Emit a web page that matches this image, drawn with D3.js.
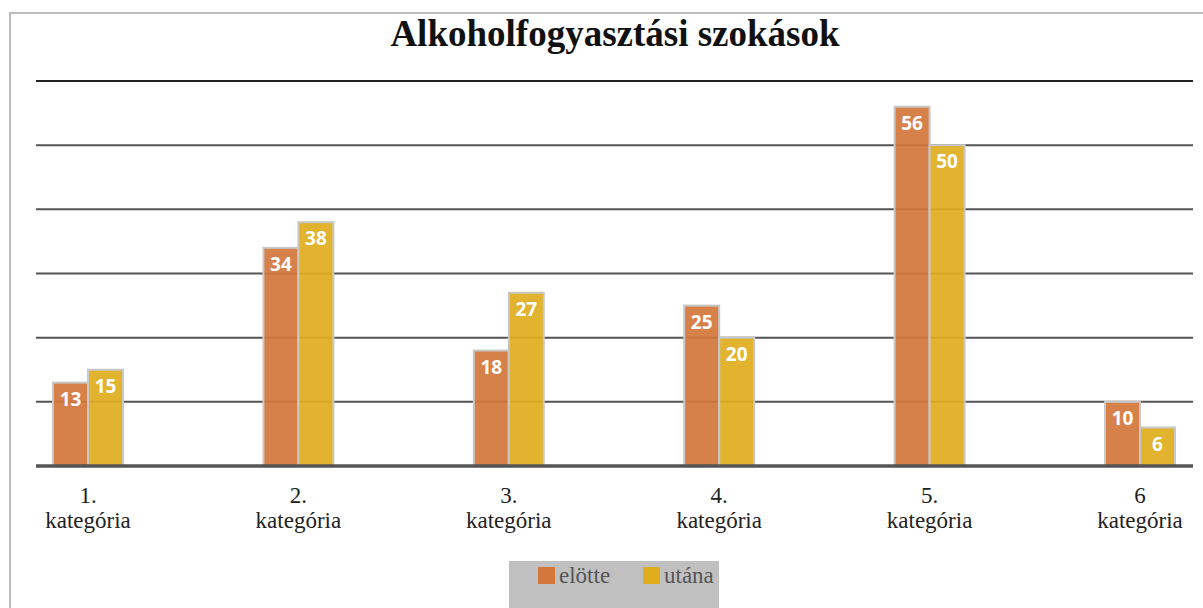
<!DOCTYPE html>
<html><head><meta charset="utf-8">
<script src="https://cdn.jsdelivr.net/npm/d3@7"></script>
<style>body{margin:0;background:#fff;}svg{display:block;}</style>
</head><body>
<svg id="c" width="1203" height="608"></svg>
<script>
const categories = ["1.|kategória","2.|kategória","3.|kategória","4.|kategória","5.|kategória","6|kategória"];
const seriesNames = ["elötte","utána"];
const elotte = [13,34,18,25,56,10];
const utana = [15,38,27,20,50,6];
const yTicks = [0,10,20,30,40,50,60];
const colors = ["#d4773c","#e0ad1e"];
const SERIF = "Liberation Serif";

const svg = d3.select("#c");
svg.append("path").attr("d","M10,608 V13 H1203").attr("fill","none").attr("stroke","#bdbdbd").attr("stroke-width",2);

svg.append("text").attr("x",615).attr("y",46).attr("text-anchor","middle")
  .attr("font-family",SERIF).attr("font-weight","bold").attr("font-size",37).attr("fill","#111")
  .text("Alkoholfogyasztási szokások");

const y = d3.scaleLinear().domain([0,60]).range([466,81]);
const x = d3.scalePoint().domain(categories).range([88,1140]);
const xs = d3.scaleBand().domain(seriesNames).range([-35,35]).paddingInner(0);

svg.append("g").selectAll("line").data(yTicks.filter(t=>t>0)).join("line")
  .attr("x1",36).attr("x2",1193).attr("y1",d=>y(d)).attr("y2",d=>y(d))
  .attr("stroke",d=>d===60?"#222":"#555").attr("stroke-width",2);

const data = categories.map((c,i)=>({c, vals:[elotte[i],utana[i]]}));
const groups = svg.append("g").selectAll("g").data(data).join("g")
  .attr("transform",d=>`translate(${x(d.c)},0)`);
groups.selectAll("rect").data(d=>d.vals.map((v,j)=>({v,s:seriesNames[j],j}))).join("rect")
  .attr("x",d=>xs(d.s)).attr("width",xs.bandwidth())
  .attr("y",d=>y(d.v)).attr("height",d=>y(0)-y(d.v))
  .attr("fill",d=>colors[d.j]).attr("fill-opacity",0.93)
  .attr("stroke","#c8c8c8").attr("stroke-width",2);
groups.selectAll("text.v").data(d=>d.vals.map((v,j)=>({v,s:seriesNames[j],j}))).join("text")
  .attr("class","v").attr("x",d=>xs(d.s)+xs.bandwidth()/2).attr("y",d=>y(d.v)+23)
  .attr("text-anchor","middle").attr("font-family","Open Sans").attr("font-weight","bold")
  .attr("font-size",19).attr("fill","#fff").text(d=>d.v);

svg.append("line").attr("x1",36).attr("x2",1193).attr("y1",y(0)).attr("y2",y(0))
  .attr("stroke","#555").attr("stroke-width",3.5);

const lab = svg.append("g").selectAll("text").data(categories).join("text")
  .attr("x",d=>x(d)).attr("text-anchor","middle").attr("font-family",SERIF)
  .attr("font-size",23).attr("fill","#222");
lab.append("tspan").attr("x",d=>x(d)).attr("y",503).text(d=>d.split("|")[0]);
lab.append("tspan").attr("x",d=>x(d)).attr("y",528).text(d=>d.split("|")[1]);

svg.append("rect").attr("x",509).attr("y",561).attr("width",210).attr("height",47).attr("fill","#c0c0c0");
const lg = svg.append("g").selectAll("g").data(seriesNames).join("g")
  .attr("transform",(d,i)=>`translate(${538+i*105},567)`);
lg.append("rect").attr("width",17).attr("height",17).attr("fill",(d,i)=>colors[i]);
lg.append("text").attr("x",21).attr("y",16).attr("font-family",SERIF).attr("font-size",23)
  .attr("fill","#555").text(d=>d);
</script>
</body></html>
